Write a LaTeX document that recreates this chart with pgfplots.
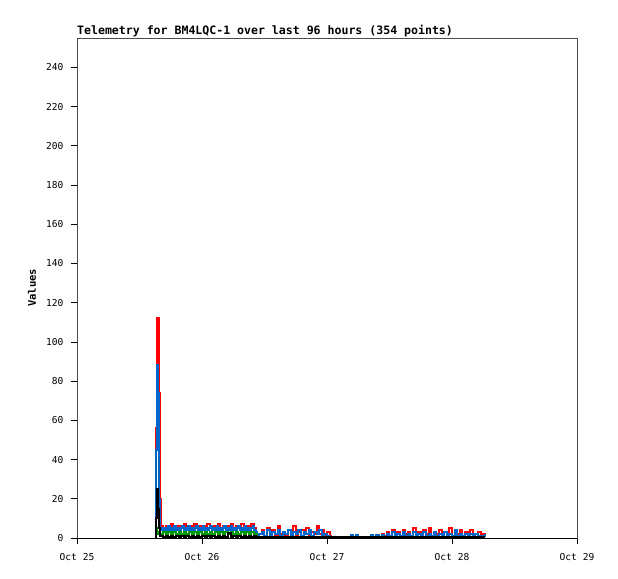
\documentclass[border=0pt]{standalone}
\usepackage{pgfplots}
\pgfplotsset{compat=1.18}
\usepackage{fontspec}
\setmainfont{DejaVu Sans Mono}
\definecolor{tred}{RGB}{255,0,0}
\definecolor{tblue}{RGB}{0,102,204}
\definecolor{tgreen}{RGB}{0,153,0}
\begin{document}
\begin{tikzpicture}
\path[use as bounding box] (-77bp,-41bp) rectangle (541bp,538bp);
\begin{axis}[
  at={(0,0)}, anchor=south west,
  scale only axis, width=500bp, height=500bp,
  xmin=0, xmax=96, ymin=0, ymax=255,
  xtick={0,24,48,72,96},
  xticklabels={Oct 25,Oct 26,Oct 27,Oct 28,Oct 29},
  ytick={0,20,...,240},
  xtick pos=lower, ytick pos=left,
  tick align=outside,
  major tick length=6bp,
  tick style={black, line width=0.8pt},
  axis line style={black!70, line width=0.8pt},
  ticklabel style={font=\fontsize{9.6}{11}\selectfont},
  /pgf/number format/assume math mode=true,
  xticklabel style={yshift=-6bp},
  yticklabel style={xshift=-4bp},
  ylabel={\textbf{Values}},
  ylabel style={font=\fontsize{10.5}{12}\selectfont, at={(-0.09,0.5)}, anchor=center},
  title={\textbf{Telemetry for BM4LQC-1 over last 96 hours (354 points)}},
  title style={font=\fontsize{11.6}{12}\selectfont, at={(0,1)}, anchor=south west, inner xsep=0pt, yshift=-8bp},
  clip=true,
  every axis plot/.append style={line width=2bp, line join=miter, const plot},
  after end axis/.code={\draw[black, line width=1pt] (rel axis cs:0,0)--(rel axis cs:1,0);},
]
% red
\addplot[tred] coordinates {
(15.0,0)(15.1,56)(15.3,112)(15.6,112)(15.8,74)(15.9,20)(16.1,6)
(16.5,5)(17,6)(17.5,5)(18,7)(18.5,5)(19,6)(19.5,5)(20,6)(20.5,7)(21,5)(21.5,6)(22,5)(22.5,7)(23,5)(23.5,6)(24,5)(24.5,6)(25,7)(25.5,5)(26,6)(26.5,5)(27,7)(27.5,5)(28,6)(28.5,5)(29,6)(29.5,7)(30,5)(30.5,6)(31,5)(31.5,7)(32,5)(32.5,6)(33,5)(33.5,7)(34,5)(34.3,3)
(34.6,1)(35,2)(35.5,4)(36,1)(36.5,5)(37,2)(37.5,4)(38,1)(38.5,6)(39,2)(39.5,3)(40,1)(40.5,4)(41,2)(41.5,6)(42,1)(42.5,3)(43,4)(43.5,2)(44,5)(44.5,1)(45,3)(45.5,2)(46,6)(46.5,2)(47,4)(47.5,1)(48,3)(48.5,1)(48.8,0.5)
(57,0.5)(57.5,1.5)(58,0.5)(58.5,2)(59,1)(59.5,3)(60,1)(60.5,4)(61,2)(61.5,3)(62,1)(62.5,4)(63,2)(63.5,3)(64,1)(64.5,5)(65,2)(65.5,3)(66,1)(66.5,4)(67,2)(67.5,5)(68,1)(68.5,3)(69,2)(69.5,4)(70,1)(70.5,3)(71,2)(71.5,5)(72,1)(72.5,3)(73,2)(73.5,4)(74,1)(74.5,3)(75,2)(75.5,4)(76,1)(76.5,2)(77,3)(77.5,1)(78,2)(78.3,1)
};
% blue
\addplot[tblue] coordinates {
(15.0,0)(15.1,45)(15.3,88)(15.6,74)(15.8,20)(16.0,4)
(16.3,5)(16.6,4)(16.9,5)(17.2,4)(17.5,6)(17.8,4)(18.1,5)(18.4,4)(18.7,6)(19,4)(19.3,5)(19.6,4)(19.9,5)(20.2,6)(20.5,4)(20.8,5)(21.1,4)(21.4,6)(21.7,4)(22,5)(22.3,4)(22.6,5)(22.9,6)(23.2,4)(23.5,5)(23.8,4)(24.1,6)(24.4,4)(24.7,5)(25,4)(25.3,5)(25.6,6)(25.9,4)(26.2,5)(26.5,4)(26.8,6)(27.1,4)(27.4,5)(27.7,4)(28,5)(28.3,6)(28.6,4)(28.9,5)(29.2,4)(29.5,6)(29.8,4)(30.1,5)(30.4,4)(30.7,5)(31,6)(31.3,4)(31.6,5)(31.9,4)(32.2,6)(32.5,4)(32.8,5)(33.1,4)(33.4,5)(33.7,6)(34,4)(34.3,3)
(34.5,1)(35,2)(35.5,3)(36,1)(36.5,4)(37,1)(37.5,3)(38,2)(38.5,4)(39,1)(39.5,3)(40,2)(40.5,4)(41,1)(41.5,3)(42,2)(42.5,4)(43,1)(43.5,3)(44,2)(44.5,4)(45,1)(45.5,3)(46,2)(46.5,4)(47,1)(47.5,2)(48,1)(48.5,0.5)
(52.6,1.5)(53,0.5)(53.6,1.5)(54,0.5)(56.4,1.5)(56.8,0.5)
(57,0.5)(57.5,1.5)(58,0.5)(58.5,1.5)(59,0.5)(59.5,2)(60,1)(60.5,3)(61,1)(61.5,2)(62,1)(62.5,3)(63,1)(63.5,2)(64,1)(64.5,3)(65,1)(65.5,2)(66,1)(66.5,3)(67,1)(67.5,2)(68,1)(68.5,3)(69,1)(69.5,2)(70,1)(70.5,3)(71,1)(71.5,2)(72,1)(72.5,4)(73,1)(73.5,2)(74,1)(74.5,2)(75,1)(75.5,2)(76,1)(76.5,2)(77,1)(77.5,1)(78,1)(78.3,2)
};
% green
\addplot[tgreen] coordinates {
(15.0,0)(15.1,5)(15.4,3)(15.6,2)(16,2)
(16.5,3)(17,2)(17.5,3)(18,2)(18.5,3)(19,2)(19.5,3)(20,2)(20.5,3)(21,2)(21.5,3)(22,2)(22.5,3)(23,2)(23.5,3)(24,2)(24.5,3)(25,2)(25.5,3)(26,2)(26.5,3)(27,2)(27.5,3)(28,2)(28.5,3)(29,2)(29.5,3)(30,2)(30.5,3)(31,2)(31.5,3)(32,2)(32.5,3)(33,2)(33.5,3)(34,2)(34.3,2)
(34.5,0.3)(78.3,0.3)
};
% black
\addplot[black] coordinates {
(15.0,0)(15.1,10)(15.3,25)(15.6,15)(15.8,5)(16,1)
(16.5,0.3)(17,1)(17.5,0.3)(18,1)(18.5,0.3)(19,1)(19.5,0.3)(20,1)(20.5,0.3)(21,1)(21.5,0.3)(22,1)(22.5,0.3)(23,1)(23.5,0.3)(24,1)(24.5,0.3)(25,1)(25.5,0.3)(26,1)(26.5,0.3)(27,1)(27.5,0.3)(28,1)(28.5,0.3)(29,2.5)(29.5,0.3)(30,1)(30.5,0.3)(31,1)(31.5,0.3)(32,1)(32.5,0.3)(33,1)(33.5,0.3)(34,1)(34.3,0.3)
(78.3,0.3)
};
\end{axis}
\end{tikzpicture}
\end{document}
